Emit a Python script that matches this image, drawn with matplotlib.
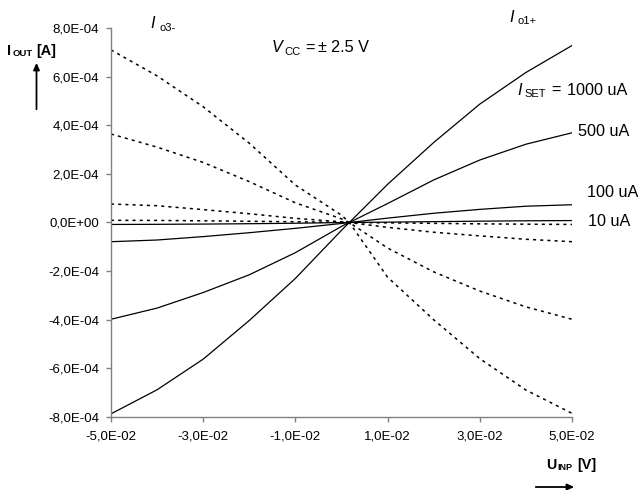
import matplotlib
matplotlib.use("Agg")
import matplotlib.pyplot as plt
from matplotlib.patches import FancyArrowPatch
from matplotlib.ticker import FuncFormatter, FixedLocator

plt.rcParams['font.family'] = ['Liberation Sans', 'DejaVu Sans']

# input voltage U_INP [V]
u_inp = [-0.05, -0.04, -0.03, -0.02, -0.01, 0.0, 0.0017, 0.01, 0.02, 0.03, 0.04, 0.05]

# I_o1+ (solid) [A]
io1_1000 = [-7.87e-4, -6.88e-4, -5.62e-4, -4.03e-4, -2.30e-4, -3.2e-5, 0.0, 1.57e-4, 3.29e-4, 4.87e-4, 6.17e-4, 7.28e-4]
io1_500 = [-3.98e-4, -3.52e-4, -2.88e-4, -2.15e-4, -1.24e-4, -1.6e-5, 0.0, 7.8e-5, 1.75e-4, 2.57e-4, 3.22e-4, 3.69e-4]
io1_100 = [-7.9e-5, -7.2e-5, -5.8e-5, -4.2e-5, -2.4e-5, -4e-6, 0.0, 1.8e-5, 3.8e-5, 5.4e-5, 6.7e-5, 7.3e-5]
io1_10 = [-8e-6, -7.5e-6, -6.5e-6, -5e-6, -3e-6, -3e-7, 0.0, 1.5e-6, 3.5e-6, 5.5e-6, 7e-6, 8e-6]

# I_o3- (dotted) [A]
io3_1000 = [7.10e-4, 6.03e-4, 4.76e-4, 3.26e-4, 1.54e-4, 3.0e-5, 0.0, -2.25e-4, -4.00e-4, -5.60e-4, -6.89e-4, -7.85e-4]
io3_500 = [3.64e-4, 3.10e-4, 2.47e-4, 1.68e-4, 8.1e-5, 1.5e-5, 0.0, -1.05e-4, -2.03e-4, -2.82e-4, -3.47e-4, -3.98e-4]
io3_100 = [7.6e-5, 6.9e-5, 5.3e-5, 3.6e-5, 1.7e-5, 3e-6, 0.0, -2.0e-5, -4.0e-5, -5.5e-5, -6.9e-5, -7.9e-5]
io3_10 = [9e-6, 8.5e-6, 7e-6, 5e-6, 3e-6, 5e-7, 0.0, -1.5e-6, -3.5e-6, -5.5e-6, -7e-6, -8e-6]

x_ticks = [-0.05, -0.03, -0.01, 0.01, 0.03, 0.05]
y_ticks = [-8e-4, -6e-4, -4e-4, -2e-4, 0.0, 2e-4, 4e-4, 6e-4, 8e-4]

W, H = 638, 490
fig = plt.figure(figsize=(W / 100, H / 100), dpi=100)
ax = fig.add_axes([111 / W, 1 - 417 / H, (572 - 111) / W, (417 - 28) / H])

for s in (io1_1000, io1_500, io1_100, io1_10):
    ax.plot(u_inp, s, color='black', lw=0.9, solid_joinstyle='round')
for s in (io3_1000, io3_500, io3_100, io3_10):
    ax.plot(u_inp, s, color='black', lw=1.1, linestyle=(0, (2, 2.7)), dash_capstyle='butt')

ax.set_xlim(-0.05, 0.05)
ax.set_ylim(-8e-4, 8e-4)
ax.xaxis.set_major_locator(FixedLocator(x_ticks))
ax.yaxis.set_major_locator(FixedLocator(y_ticks))
fmt = FuncFormatter(lambda v, p: ("%.1E" % v).replace('.', ','))
ax.xaxis.set_major_formatter(fmt)
ax.yaxis.set_major_formatter(fmt)
for sp in ('top', 'right'):
    ax.spines[sp].set_visible(False)
for sp in ('left', 'bottom'):
    ax.spines[sp].set_color('#808080')
    ax.spines[sp].set_linewidth(1.0)
ax.tick_params(axis='both', direction='out', length=3.5, width=1.0, color='#808080',
               labelsize=9.5, labelcolor='black')
ax.tick_params(axis='y', pad=5)
ax.tick_params(axis='x', pad=6)


def ftext(x, y, s, **kw):
    fig.text(x / W, 1 - y / H, s, va='center', ha='left', **kw)


def farrow(p0, p1):
    fig.add_artist(FancyArrowPatch((p0[0] / W, 1 - p0[1] / H), (p1[0] / W, 1 - p1[1] / H),
                   transform=fig.transFigure, arrowstyle='-|>,head_length=4,head_width=1.8',
                   color='black', lw=1.3, mutation_scale=1))


# y-axis label with arrow
ftext(7, 51, 'I', fontsize=10.4, fontweight='bold')
ftext(12.5, 53.5, 'OUT', fontsize=6.8, fontweight='bold')
ftext(36, 51, '[A]', fontsize=10.4, fontweight='bold')
farrow((36.5, 112), (36.5, 60))

# x-axis label with arrow
ftext(546.5, 465, 'U', fontsize=10.2, fontweight='bold')
ftext(557.5, 467.5, 'INP', fontsize=6.5, fontweight='bold')
ftext(577, 465, '[V]', fontsize=10.4, fontweight='bold')
farrow((533, 487), (577, 487))

# annotations
FS = 11.7
SUB = 8
ftext(150, 23, 'I', fontsize=FS, style='italic')
ftext(159, 28, 'o3-', fontsize=SUB)
ftext(509, 17, 'I', fontsize=FS, style='italic')
ftext(517, 21, 'o1+', fontsize=SUB)
ftext(272, 48, 'V', fontsize=FS, style='italic')
ftext(284.5, 52, 'CC', fontsize=SUB)
ftext(305, 48, '=', fontsize=FS)
ftext(317.5, 48, '\u00b1', fontsize=FS)
ftext(331, 48, '2.5 V', fontsize=FS)
ftext(517.5, 90.5, 'I', fontsize=FS, style='italic')
ftext(524.5, 94, 'SET', fontsize=SUB)
ftext(551, 90.5, '=', fontsize=FS)
ftext(567, 90.5, '1000 uA', fontsize=FS)
ftext(578, 132, '500 uA', fontsize=FS)
ftext(587, 192, '100 uA', fontsize=FS)
ftext(587.5, 221, '10 uA', fontsize=FS)

fig.savefig('out.png', dpi=100)
